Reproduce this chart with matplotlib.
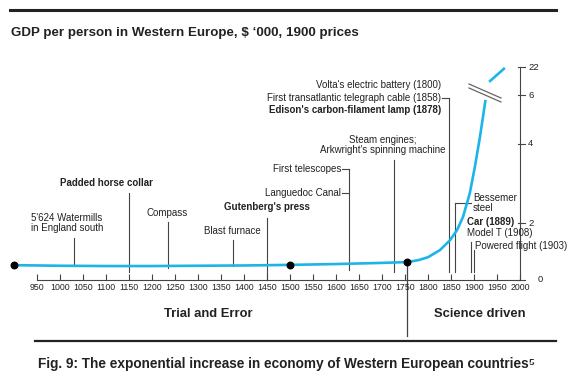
import numpy as np
import matplotlib
matplotlib.use("Agg")
import matplotlib.pyplot as plt

plt.rcParams['font.family'] = ['Liberation Sans', 'DejaVu Sans']

# ---- data ----
years = [900, 1000, 1100, 1200, 1300, 1400, 1500, 1600, 1700, 1755,
         1780, 1800, 1826, 1848, 1863, 1876, 1891, 1902, 1913, 1925]
gdp = [0.52, 0.50, 0.49, 0.49, 0.50, 0.51, 0.53, 0.56, 0.60, 0.63,
       0.70, 0.80, 1.05, 1.40, 1.75, 2.15, 2.76, 3.43, 4.29, 5.80]
years_top = [1935, 1965]
gdp_top = [14.0, 21.0]
dot_years = [900, 1500, 1755]
dot_gdp = [0.52, 0.53, 0.63]
x_ticks = list(range(950, 2001, 50))
y_ticks = [0, 2, 4, 6, 22]
divider_year = 1755

# non-linear (broken) right scale: value -> screen units
V = np.array([0, 2, 4, 6, 22], float)
U = np.array([0, 57, 136, 185, 213], float)

def _pw(x, a, b):
    x = np.asarray(x, float)
    out = np.interp(x, a, b)
    lo = b[0] + (x - a[0]) * (b[1] - b[0]) / (a[1] - a[0])
    hi = b[-1] + (x - a[-1]) * (b[-1] - b[-2]) / (a[-1] - a[-2])
    out = np.where(x < a[0], lo, out)
    out = np.where(x > a[-1], hi, out)
    return out

fwd = lambda v: _pw(v, V, U)
inv = lambda u: _pw(u, U, V)

W, H = 579, 386
fig = plt.figure(figsize=(W / 100, H / 100), dpi=100)
ax = fig.add_axes([0, 0, 1, 1])
ax.set_yscale('function', functions=(fwd, inv))
PXY = 0.46
X0 = 37
ax.set_xlim(950 - X0 / PXY, 950 + (W - X0) / PXY)
ax.set_ylim(float(inv(280 - H)), float(inv(280)))
ax.axis('off')

def Y(py):
    return float(inv(280 - py))

def X(px):
    return 950 + (px - X0) / PXY

TXT = '#222222'
LN = '#444444'
fs = 7

# curve
cyan = '#1db4e8'
ax.plot(years, gdp, color=cyan, lw=1.9, solid_capstyle='butt', zorder=3)
ax.plot(years_top, gdp_top, color=cyan, lw=1.9, zorder=3)
ax.scatter(dot_years, dot_gdp, s=22, color='black', zorder=4)

# break marks
for off in (0, 4):
    ax.plot([X(469), X(501)], [Y(84 + off), Y(98 + off)], color='#666666', lw=0.9)

# bottom axis
ax.plot([950, 2000], [0, 0], color=LN, lw=0.8)
ax.vlines(x_ticks, 0, Y(274), color=LN, lw=0.8)
for t in x_ticks:
    ax.text(t, Y(287), str(t), ha='center', va='center', fontsize=6.3, color=TXT)

# right axis
ax.plot([2000, 2000], [0, 22], color=LN, lw=0.8)
for v in y_ticks:
    ax.plot([X(518), X(525)], [v, v], color=LN, lw=0.8)
    xx = 538 if v == 0 else 528
    ax.text(X(xx), v, str(v), ha='left', va='center', fontsize=6.8, color=TXT)

# divider
ax.plot([divider_year, divider_year], [Y(262), Y(336)], color=LN, lw=0.9, zorder=2)

def vline(px, top, bot):
    ax.plot([X(px), X(px)], [Y(top), Y(bot)], color=LN, lw=0.8, zorder=2)

def hline(px1, px2, py):
    ax.plot([X(px1), X(px2)], [Y(py), Y(py)], color=LN, lw=0.8, zorder=2)

def label(s, px, py, ha='center', bold=False, size=fs):
    ax.text(X(px), Y(py), s, ha=ha, va='center', fontsize=size, color=TXT,
            fontweight='bold' if bold else 'normal', linespacing=1.05)

label("5'624 Watermills\nin England south", 67, 223)
vline(74, 238, 266)
label("Padded horse collar", 106, 183, bold=True)
vline(129, 193, 272)
label("Compass", 167, 213)
vline(168, 222, 268)
label("Blast furnace", 232, 231)
vline(233, 240, 266)
label("Gutenberg's press", 267, 207, bold=True)
vline(267, 218, 280)
label("First telescopes", 341, 169, ha='right')
hline(342, 349, 169)
label("Languedoc Canal", 341, 193, ha='right')
hline(342, 349, 193)
vline(349, 169, 270)
label("Steam engines;\nArkwright's spinning machine", 383, 145)
vline(394, 160, 272)
label("Volta's electric battery (1800)", 441, 85, ha='right')
label("First transatlantic telegraph cable (1858)", 441, 98, ha='right')
hline(442, 449, 98)
vline(449, 98, 272)
label("Edison's carbon-filament lamp (1878)", 441, 110, ha='right', bold=True)
label("Bessemer\nsteel", 473, 203, ha='left')
hline(455, 471, 203)
vline(455, 203, 272)
label("Car (1889)", 467, 222, ha='left', bold=True)
label("Model T (1908)", 467, 233, ha='left')
label("Powered flight (1903)", 475, 246, ha='left')
vline(471, 242, 272)
vline(474, 250, 272)

# section labels
label("Trial and Error", 208, 314, bold=True, size=9.4)
label("Science driven", 480, 314, bold=True, size=9.4)

# rules
fig.add_artist(plt.Line2D([10 / W, 556 / W], [1 - 10 / H, 1 - 10 / H], color='#222222', lw=2.2))
fig.add_artist(plt.Line2D([35 / W, 556 / W], [1 - 341 / H, 1 - 341 / H], color='#222222', lw=1.6))

fig.text(11 / W, 1 - 33 / H, "GDP per person in Western Europe, $ \u2018000, 1900 prices",
         ha='left', va='center', fontsize=9.6, fontweight='bold', color=TXT)
fig.text(286 / W, 1 - 364 / H,
         "Fig. 9: The exponential increase in economy of Western European countries\u2075",
         ha='center', va='center', fontsize=9.8, fontweight='bold', color=TXT)

fig.savefig('out.png', dpi=100, facecolor='white')
